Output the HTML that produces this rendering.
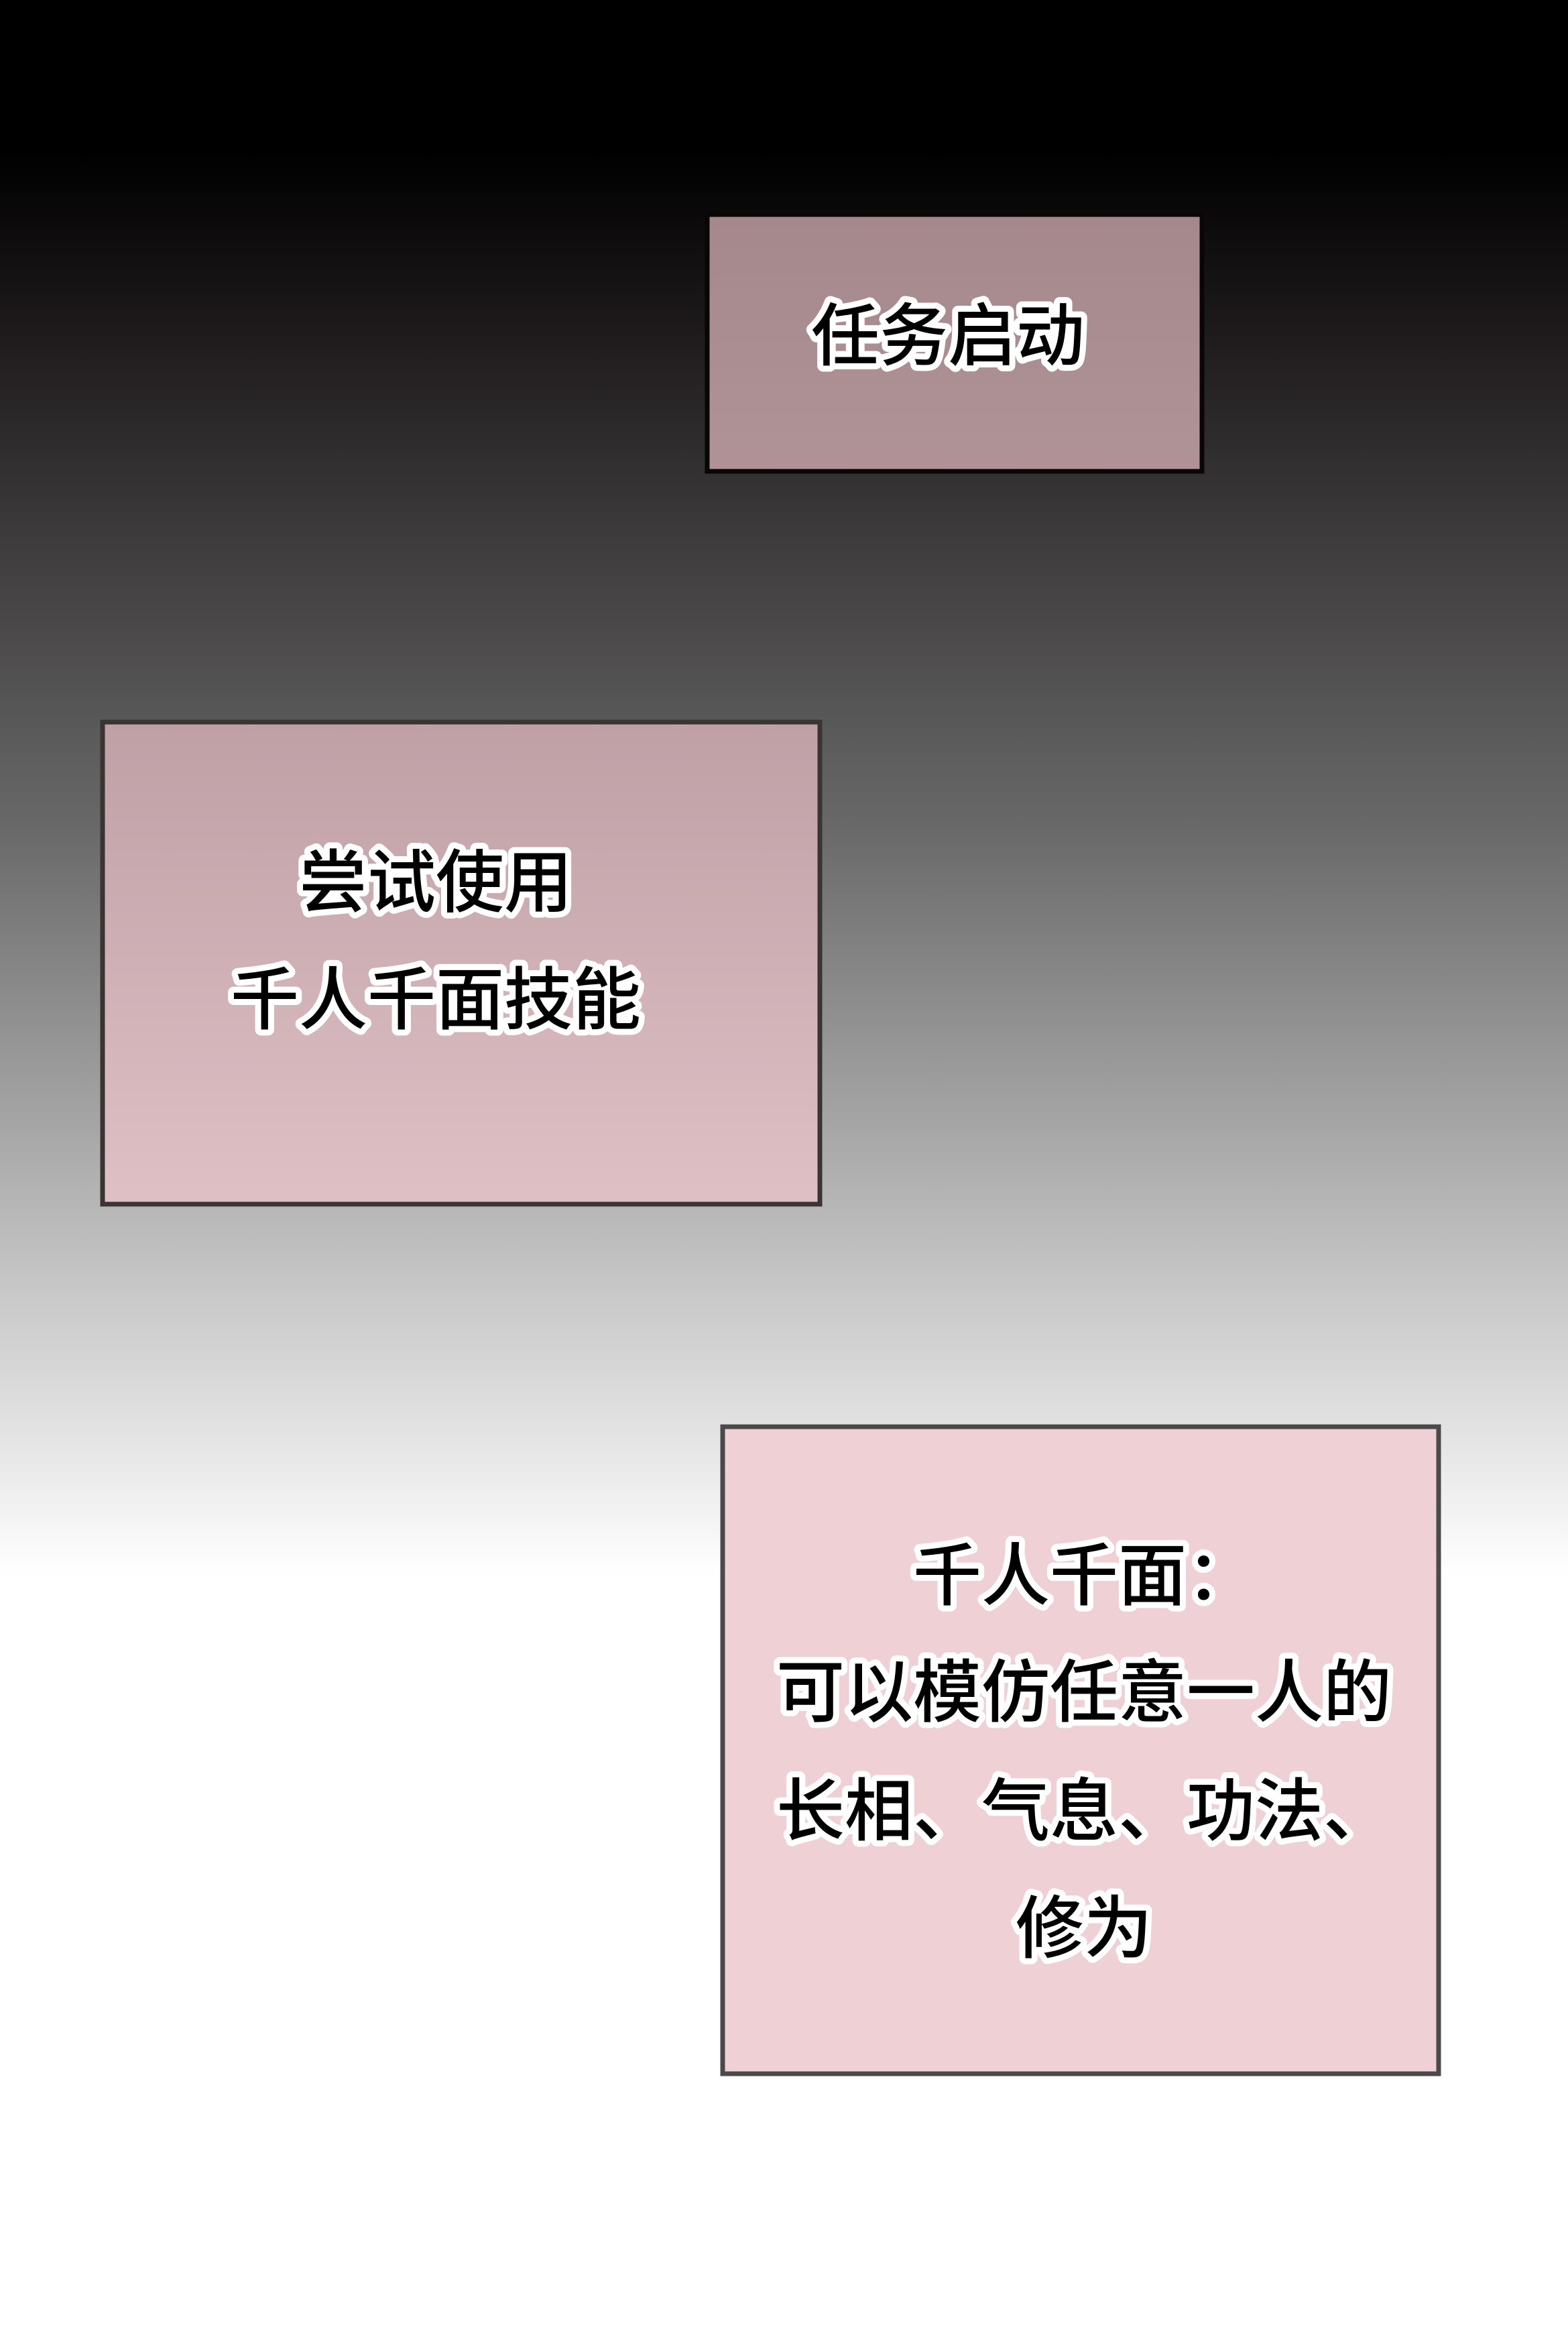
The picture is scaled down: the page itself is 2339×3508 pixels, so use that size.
<!DOCTYPE html>
<html><head><meta charset="utf-8">
<style>
html,body{margin:0;padding:0;}
body{width:2339px;height:3508px;overflow:hidden;}
svg{display:block;}
text{font-family:"Liberation Sans","Noto Sans CJK SC",sans-serif;font-weight:500;font-size:102px;fill:#000;stroke:#fff;stroke-width:18px;stroke-linejoin:round;paint-order:stroke fill;text-anchor:middle;}
</style></head>
<body>
<svg width="2339" height="3508" viewBox="0 0 2339 3508" xmlns="http://www.w3.org/2000/svg">
<defs>
<linearGradient id="bg" x1="0" y1="0" x2="0" y2="1">
<stop offset="0" stop-color="#000"/>
<stop offset="0.065" stop-color="#000"/>
<stop offset="0.14" stop-color="#1e1a1b"/>
<stop offset="0.35" stop-color="#686868"/>
<stop offset="0.55" stop-color="#c8c8c8"/>
<stop offset="0.67" stop-color="#ffffff"/>
<stop offset="1" stop-color="#ffffff"/>
</linearGradient>
<linearGradient id="b1" x1="0" y1="0" x2="0" y2="1">
<stop offset="0" stop-color="#a5888c"/><stop offset="1" stop-color="#b09397"/>
</linearGradient>
<linearGradient id="b2" x1="0" y1="0" x2="0" y2="1">
<stop offset="0" stop-color="#bfa0a5"/><stop offset="1" stop-color="#dec0c5"/>
</linearGradient>
</defs>
<rect width="2339" height="3508" fill="url(#bg)"/>
<rect x="1055" y="320" width="738" height="383" fill="url(#b1)" stroke="#080606" stroke-width="7"/>
<text x="1414" y="537">任务启动</text>
<rect x="153" y="1077" width="1070" height="719" fill="url(#b2)" stroke="#3a3434" stroke-width="7"/>
<text x="650" y="1352">尝试使用</text>
<text x="650" y="1527">千人千面技能</text>
<rect x="1078" y="2128" width="1068" height="965" fill="#eed0d5" stroke="#4a4a4a" stroke-width="7"/>
<text x="1617" y="2386">千人千面：</text>
<text x="1617" y="2560">可以模仿任意一人的</text>
<text x="1617" y="2737">长相、气息、功法、</text>
<text x="1617" y="2912">修为</text>
</svg>
</body></html>
